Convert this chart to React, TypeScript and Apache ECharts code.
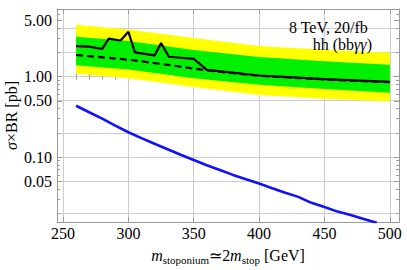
import React, { useEffect, useRef } from "react";
import * as echarts from "echarts";

// ---- data ----
const bandX = [260, 300, 350, 400, 450, 500];
const yellowLow = [1.08, 0.955, 0.74, 0.59, 0.53, 0.49];
const yellowHigh = [4.4, 3.85, 3.01, 2.4, 2.15, 1.97];
const greenLow = [1.38, 1.22, 0.95, 0.79, 0.7, 0.63];
const greenHigh = [3.12, 2.77, 2.13, 1.75, 1.55, 1.4];

const obsX = [260, 270, 280, 285, 294, 300, 305, 320, 325, 331, 350, 360, 400, 450, 500];
const obsY = [2.38, 2.35, 2.2, 2.95, 2.8, 3.6, 2.0, 1.83, 2.6, 1.76, 1.66, 1.21, 1.03, 0.93, 0.86];

const expX = [260, 300, 330, 360, 400, 450, 500];
const expY = [1.85, 1.62, 1.4, 1.19, 1.02, 0.92, 0.85];

const thX = [260, 270, 280, 290, 300, 310, 320, 330, 340, 350, 360, 370, 380, 390, 400, 410, 420, 430, 440, 450, 460, 470, 480, 490];
const thY = [0.434, 0.36, 0.3, 0.245, 0.203, 0.172, 0.146, 0.125, 0.107, 0.092, 0.079, 0.069, 0.06, 0.053, 0.047, 0.041, 0.036, 0.032, 0.027, 0.024, 0.021, 0.019, 0.017, 0.0153];

const yTickValues = [0.05, 0.1, 0.5, 1, 5];
const yTickLabels = ["0.05", "0.10", "0.50", "1.00", "5.00"];
const yMinorTicks = [0.02, 0.03, 0.04, 0.06, 0.07, 0.08, 0.09, 0.2, 0.3, 0.4, 0.6, 0.7, 0.8, 0.9, 2, 3, 4, 6];
const yGridValues = [0.02, 0.05, 0.1, 0.2, 0.5, 1, 2, 4];
const xTickValues = [250, 300, 350, 400, 450, 500];
const xTickLabels = ["250", "300", "350", "400", "450", "500"];
const xMinorTicks = [260, 270, 280, 290, 310, 320, 330, 340, 360, 370, 380, 390, 410, 420, 430, 440, 460, 470, 480, 490];

const Y_MIN_VALUE = 0.0156;
const Y_MAX_VALUE = 6.9;
const X_MIN = 245.4;
const X_MAX = 507;

const L = (v: number) => Math.log10(v);
const FONT = "Liberation Serif";
const FONT16 = `16px "${FONT}"`;
const FRAME = "#9a9a9a";
const GRID = "#cccccc";

export default function App() {
  const ref = useRef<HTMLDivElement>(null);

  useEffect(() => {
    if (!ref.current) return;
    const chart = echarts.init(ref.current, undefined, { renderer: "svg" });

    const yMin = L(Y_MIN_VALUE);
    const yMax = L(Y_MAX_VALUE);

    const yBase = {
      type: "value" as const,
      min: yMin,
      max: yMax,
      splitLine: { show: false },
      axisLabel: { show: false },
      axisLine: { show: false },
    };
    const xBase = {
      type: "value" as const,
      min: X_MIN,
      max: X_MAX,
      splitLine: { show: false },
      axisLabel: { show: false },
      axisLine: { show: false },
    };

    const bandSeries = (lo: number[], hi: number[], color: string) => ({
      type: "custom" as const,
      silent: true,
      clip: true,
      z: 2,
      data: [[bandX[0], L(lo[0])]],
      renderItem: (params: any, api: any) => {
        if (params.dataIndex !== 0) return null;
        const pts: number[][] = [];
        for (let i = 0; i < bandX.length; i++) pts.push(api.coord([bandX[i], L(hi[i])]));
        for (let i = bandX.length - 1; i >= 0; i--) pts.push(api.coord([bandX[i], L(lo[i])]));
        return { type: "polygon", shape: { points: pts }, style: { fill: color } };
      },
    });

    const option: any = {
      animation: false,
      backgroundColor: "#ffffff",
      textStyle: { fontFamily: FONT },
      grid: { left: 57, right: 8, top: 9, bottom: 48, containLabel: false, outerBoundsMode: "none" },
      xAxis: [
        {
          ...xBase,
          position: "bottom",
          axisLine: { show: true, onZero: false, lineStyle: { color: FRAME, width: 1 } },
          axisTick: { show: true, inside: true, length: 5, customValues: xTickValues, lineStyle: { color: FRAME } },
          splitLine: { show: true, lineStyle: { color: GRID, width: 1 } },
          name: "{i|m}{s|stoponium}{n|\u22432}{i|m}{s|stop}{n| [GeV]}",
          nameLocation: "middle",
          nameGap: 23,
          nameTextStyle: {
            fontFamily: FONT,
            color: "#000",
            rich: {
              i: { fontFamily: FONT, fontStyle: "italic", fontSize: 16, lineHeight: 20, verticalAlign: "middle", color: "#000" },
              n: { fontFamily: FONT, fontSize: 16, lineHeight: 20, verticalAlign: "middle", color: "#000" },
              s: { fontFamily: FONT, fontSize: 11, lineHeight: 11, verticalAlign: "bottom", color: "#000" },
            },
          },
        },
        {
          ...xBase,
          position: "bottom",
          axisTick: { show: true, inside: true, length: 3, customValues: xMinorTicks, lineStyle: { color: FRAME } },
        },
        {
          ...xBase,
          position: "top",
          axisLine: { show: true, onZero: false, lineStyle: { color: FRAME, width: 1 } },
          axisTick: { show: true, inside: true, length: 5, customValues: xTickValues, lineStyle: { color: FRAME } },
        },
        {
          ...xBase,
          position: "top",
          axisTick: { show: true, inside: true, length: 3, customValues: xMinorTicks, lineStyle: { color: FRAME } },
        },
      ],
      yAxis: [
        {
          ...yBase,
          position: "left",
          axisLine: { show: true, onZero: false, lineStyle: { color: FRAME, width: 1 } },
          axisTick: { show: true, inside: true, length: 5, customValues: yTickValues.map(L), lineStyle: { color: FRAME } },
          name: "{i|\u03c3}{n|\u00d7BR [pb]}",
          nameLocation: "middle",
          nameGap: 38,
          nameRotate: 90,
          nameTextStyle: {
            fontFamily: FONT,
            color: "#000",
            rich: {
              i: { fontFamily: FONT, fontStyle: "italic", fontSize: 16, color: "#000" },
              n: { fontFamily: FONT, fontSize: 16, color: "#000" },
            },
          },
        },
        {
          ...yBase,
          position: "left",
          axisTick: { show: true, inside: true, length: 3, customValues: yMinorTicks.map(L), lineStyle: { color: FRAME } },
        },
        {
          ...yBase,
          position: "right",
          axisLine: { show: true, onZero: false, lineStyle: { color: FRAME, width: 1 } },
          axisTick: { show: true, inside: true, length: 5, customValues: yTickValues.map(L), lineStyle: { color: FRAME } },
        },
        {
          ...yBase,
          position: "right",
          axisTick: { show: true, inside: true, length: 3, customValues: yMinorTicks.map(L), lineStyle: { color: FRAME } },
        },
      ],
      series: [
        {
          type: "line",
          data: [],
          z: 0,
          silent: true,
          markLine: {
            silent: true,
            z: 0,
            symbol: "none",
            label: { show: false },
            animation: false,
            lineStyle: { color: GRID, width: 1, type: "solid" },
            data: yGridValues.map((v) => ({ yAxis: L(v) })),
          },
        },
        bandSeries(yellowLow, yellowHigh, "#ffff00"),
        bandSeries(greenLow, greenHigh, "#00f000"),
        {
          type: "line",
          data: thX.map((x, i) => [x, L(thY[i])]),
          symbol: "none",
          lineStyle: { color: "#1010ff", width: 2.6 },
          clip: true,
          z: 4,
        },
        {
          type: "line",
          data: expX.map((x, i) => [x, L(expY[i])]),
          symbol: "none",
          lineStyle: { color: "#000000", width: 2.2, type: [7, 4] },
          z: 5,
        },
        {
          type: "line",
          data: obsX.map((x, i) => [x, L(obsY[i])]),
          symbol: "none",
          lineStyle: { color: "#000000", width: 2.2 },
          z: 6,
        },
      ],
    };

    chart.setOption(option);

    // serif tick labels positioned through the chart's own scales
    const toPx = (x: number, y: number): number[] =>
      chart.convertToPixel({ xAxisIndex: 0, yAxisIndex: 0 }, [x, y]) as number[];
    const graphics: any[] = [];
    xTickValues.forEach((x, i) => {
      const p = toPx(x, yMin);
      graphics.push({
        type: "text",
        x: p[0],
        y: p[1] + 3,
        z: 10,
        silent: true,
        style: { text: xTickLabels[i], font: FONT16, fill: "#000", align: "center", verticalAlign: "top" },
      });
    });
    yTickValues.forEach((v, i) => {
      const p = toPx(X_MIN, L(v));
      graphics.push({
        type: "text",
        x: p[0] - 5,
        y: p[1],
        z: 10,
        silent: true,
        style: { text: yTickLabels[i], font: FONT16, fill: "#000", align: "right", verticalAlign: "middle" },
      });
    });
    graphics.push({
      type: "text",
      right: 407 - 368,
      top: 19,
      z: 10,
      style: { text: "8 TeV, 20/fb", font: FONT16, fill: "#000" },
    });
    graphics.push({
      type: "text",
      right: 407 - 372,
      top: 36,
      z: 10,
      style: {
        text: "hh (bb{i|\u03b3\u03b3})",
        font: FONT16,
        fill: "#000",
        rich: { i: { fontStyle: "italic", fontFamily: FONT, fontSize: 16, fill: "#000" } },
      },
    });
    chart.setOption({ graphic: graphics });

    return () => chart.dispose();
  }, []);

  return (
    <div
      ref={ref}
      style={{ position: "fixed", left: 0, top: 0, width: 407, height: 270, background: "#fff" }}
    />
  );
}
